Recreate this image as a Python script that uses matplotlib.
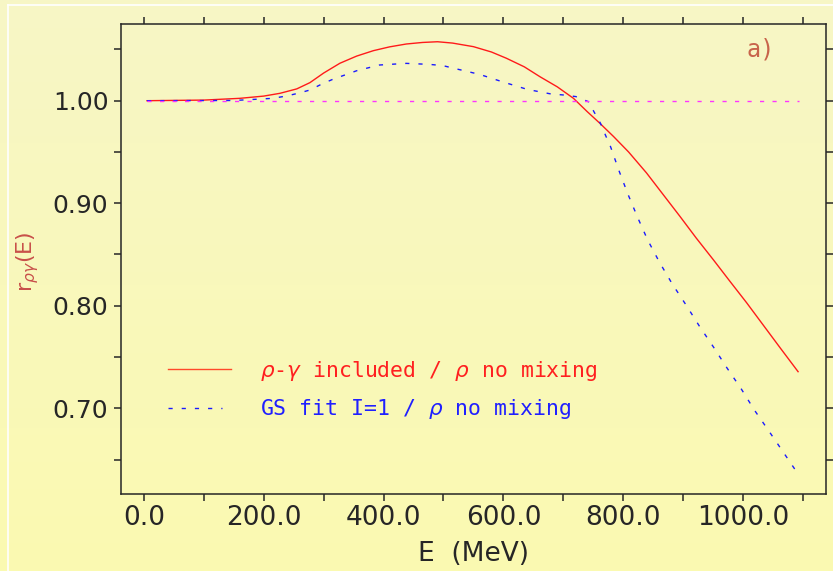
import numpy as np
import matplotlib
matplotlib.use("Agg")
import matplotlib.pyplot as plt
from matplotlib.ticker import MultipleLocator, FixedLocator

# ratio r(E) for the rho-gamma mixing model, normalised to rho without mixing
e_mix = [5, 100, 160, 200, 227, 255, 277, 300, 327, 355, 383, 410, 438, 465,
         490, 515, 550, 580, 605, 635, 661, 690, 717, 740, 761, 784, 809, 839,
         866, 895, 922, 951, 978, 1006, 1034, 1062, 1092]
r_mix = [1.0000, 1.0006, 1.0023, 1.0045, 1.0072, 1.0115, 1.0176, 1.0270,
         1.0365, 1.0435, 1.0488, 1.0525, 1.0553, 1.0568, 1.0575, 1.0562,
         1.0527, 1.0475, 1.0414, 1.0330, 1.0234, 1.0135, 1.0023, 0.9893,
         0.9780, 0.9650, 0.9500, 0.9295, 0.9090, 0.8870, 0.8660, 0.8445,
         0.8240, 0.8030, 0.7810, 0.7590, 0.7357]

# Gounaris-Sakurai fit, I=1 part
e_gs = [5, 150, 215, 238, 257, 277, 297, 315, 355, 393, 438, 477, 499, 518,
        560, 598, 640, 680, 702, 721, 742, 752, 762, 771, 779, 793, 808, 824,
        841, 861, 882, 905, 927, 951, 973, 997, 1019, 1043, 1066, 1090]
r_gs = [1.0000, 1.0002, 1.0023, 1.0046, 1.0072, 1.0104, 1.0163, 1.0208,
        1.0292, 1.0348, 1.0364, 1.0354, 1.0342, 1.0315, 1.0257, 1.0185,
        1.0110, 1.0065, 1.0055, 1.0040, 0.9990, 0.9884, 0.9780, 0.9656,
        0.9550, 0.9317, 0.9087, 0.8863, 0.8640, 0.8420, 0.8212, 0.8007,
        0.7803, 0.7595, 0.7396, 0.7190, 0.6983, 0.6780, 0.6583, 0.6376]

# reference line r = 1
e_ref = [5, 1093]
r_ref = [1.0, 1.0]

x_labels = [0, 200, 400, 600, 800, 1000]
y_labels = [0.70, 0.80, 0.90, 1.00]

plt.rcParams['font.family'] = ['DejaVu Sans']
plt.rcParams['mathtext.fontset'] = 'dejavusans'

W, H = 833, 571
fig = plt.figure(figsize=(W / 100, H / 100), dpi=100)

# pale yellow gradient behind everything
bg = fig.add_axes([0, 0, 1, 1], zorder=-10)
top = np.array([247, 246, 198]) / 255
bot = np.array([251, 250, 177]) / 255
t = np.linspace(0, 1, 256)[:, None]
grad = top[None, :] * (1 - t) + bot[None, :] * t
bg.imshow(grad[:, None, :], aspect='auto', extent=[0, W, H, 0])
bg.plot([8, 8], [5, H], color='white', lw=1.2)
bg.plot([8, W], [5, 5], color='white', lw=1.2)
bg.set_xlim(0, W)
bg.set_ylim(H, 0)
bg.axis('off')

ax = fig.add_axes([121 / W, 1 - 494 / H, 705 / W, 470 / H])
ax.set_facecolor('none')

ax.plot(e_mix, r_mix, color='#ff1a1a', lw=1.0)
ax.plot(e_gs, r_gs, color='#1a1aff', lw=1.0, dashes=(3, 6.5))
ax.plot(e_ref, r_ref, color='#ff33ff', lw=1.0, dashes=(3, 6))

ax.set_xlim(-38.4, 1138.6)
ax.set_ylim(0.6164, 1.0748)

ink = '#262626'
for s in ax.spines.values():
    s.set_linewidth(1.1)
    s.set_color(ink)

ax.xaxis.set_major_locator(FixedLocator(x_labels))
ax.xaxis.set_minor_locator(MultipleLocator(100))
ax.yaxis.set_major_locator(FixedLocator(y_labels))
ax.yaxis.set_minor_locator(MultipleLocator(0.05))
ax.set_xticklabels([f'{v:.1f}' for v in x_labels])
ax.set_yticklabels([f'{v:.2f}' for v in y_labels])
ax.tick_params(which='both', direction='out', length=5, width=1.1,
               color=ink, top=True, right=True)
ax.tick_params(axis='x', labelsize=19, labelcolor=ink, pad=3)
ax.tick_params(axis='y', labelsize=18, labelcolor=ink, pad=4)

ax.set_xlabel('E  (MeV)', fontsize=19, color=ink, labelpad=7)
fig.text(28 / W, 1 - 262 / H, r'r$_{\rho\gamma}$(E)', rotation=90,
         ha='center', va='center', fontsize=16, color='#c8504a')

ax.text(0.8875, 0.930, 'a)', transform=ax.transAxes, fontsize=17,
        color='#c8644b', family='DejaVu Sans Mono')

# legend drawn by hand
ax.plot([0.0667, 0.156], [0.266, 0.266], transform=ax.transAxes,
        color='#ff4a2a', lw=1.0)
ax.plot([0.0667, 0.143], [0.183, 0.183], transform=ax.transAxes,
        color='#1a1aff', lw=1.0, dashes=(3, 6.5))
ax.text(0.197, 0.249, r'$\rho$-$\gamma$ included / $\rho$ no mixing',
        transform=ax.transAxes, fontsize=15.5, color='#ff2020', va='baseline',
        family='DejaVu Sans Mono')
ax.text(0.197, 0.168, r'GS fit I=1 / $\rho$ no mixing',
        transform=ax.transAxes, fontsize=15.5, color='#2020ff', va='baseline',
        family='DejaVu Sans Mono')

fig.savefig('out.png', dpi=100)
